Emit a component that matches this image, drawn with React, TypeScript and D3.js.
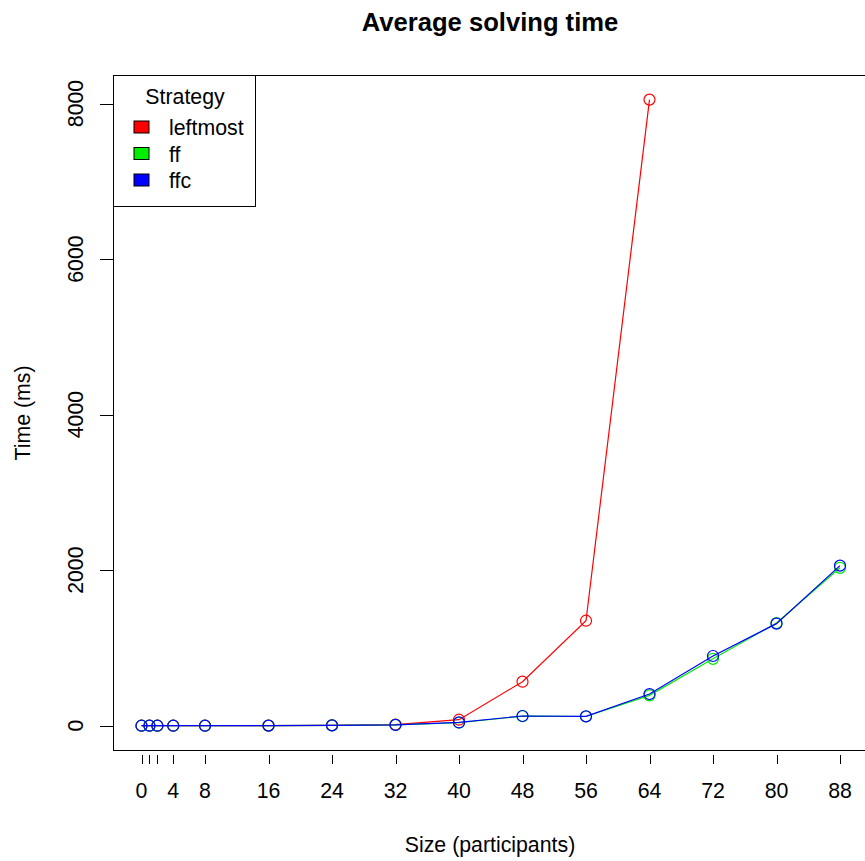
import * as d3 from "d3";
import { useEffect, useRef } from "react";

const sizes = [0, 1, 2, 4, 8, 16, 24, 32, 40, 48, 56, 64, 72, 80, 88];
const leftmost = [0, 0, 0, 0, 0, 1, 5, 15, 77, 566, 1350, 8050];
const ff = [0, 0, 0, 0, 0, 1, 4, 10, 38, 122, 118, 390, 860, 1320, 2030];
const ffc = [0, 0, 0, 0, 0, 1, 4, 10, 42, 125, 120, 407, 896, 1312, 2058];
const xTicks = [0, 1, 2, 4, 8, 16, 24, 32, 40, 48, 56, 64, 72, 80, 88];
const xLabels = [0, 4, 8, 16, 24, 32, 40, 48, 56, 64, 72, 80, 88];
const yTicks = [0, 2000, 4000, 6000, 8000];

const series = [
  { name: "leftmost", values: leftmost, color: "#ff0000" },
  { name: "ff", values: ff, color: "#00ee00" },
  { name: "ffc", values: ffc, color: "#0000ff" },
];

const App = () => {
  const ref = useRef<SVGSVGElement>(null);

  useEffect(() => {
    const width = 865;
    const height = 861;
    const font = "Liberation Sans, Arial, sans-serif";
    const fs = "21.3px";

    const svg = d3
      .select(ref.current)
      .attr("width", width)
      .attr("height", height)
      .html("");

    svg.append("rect").attr("width", width).attr("height", height).attr("fill", "#fff");

    const x = d3.scaleLinear().domain([0, 88]).range([141.5, 840]);
    const y = d3.scaleLinear().domain([0, 8000]).range([725.7, 103.5]);

    // plot box
    svg
      .append("rect")
      .attr("x", 113.5)
      .attr("y", 75.5)
      .attr("width", 760)
      .attr("height", 675)
      .attr("fill", "none")
      .attr("stroke", "#000")
      .attr("stroke-width", 1);

    // x ticks (offset below the box, no axis line)
    svg
      .selectAll(".xt")
      .data(xTicks)
      .enter()
      .append("line")
      .attr("x1", (d) => Math.round(x(d)) + 0.5)
      .attr("x2", (d) => Math.round(x(d)) + 0.5)
      .attr("y1", 755)
      .attr("y2", 764)
      .attr("stroke", "#000");

    svg
      .selectAll(".xl")
      .data(xLabels)
      .enter()
      .append("text")
      .attr("x", (d) => x(d))
      .attr("y", 798)
      .attr("text-anchor", "middle")
      .style("font-family", font)
      .style("font-size", fs)
      .text((d) => d);

    // y axis
    svg
      .selectAll(".yt")
      .data(yTicks)
      .enter()
      .append("line")
      .attr("x1", 100)
      .attr("x2", 113.5)
      .attr("y1", (d) => Math.round(y(d)) + 0.5)
      .attr("y2", (d) => Math.round(y(d)) + 0.5)
      .attr("stroke", "#000");

    svg
      .selectAll(".yl")
      .data(yTicks)
      .enter()
      .append("text")
      .attr("transform", (d) => `translate(82.5, ${y(d)}) rotate(-90)`)
      .attr("text-anchor", "middle")
      .style("font-family", font)
      .style("font-size", fs)
      .text((d) => d);

    // titles
    svg
      .append("text")
      .attr("x", 490)
      .attr("y", 31)
      .attr("text-anchor", "middle")
      .style("font-family", font)
      .style("font-size", "25.6px")
      .style("font-weight", "bold")
      .text("Average solving time");

    svg
      .append("text")
      .attr("x", 490)
      .attr("y", 852)
      .attr("text-anchor", "middle")
      .style("font-family", font)
      .style("font-size", fs)
      .text("Size (participants)");

    svg
      .append("text")
      .attr("transform", `translate(29.5, 413) rotate(-90)`)
      .attr("text-anchor", "middle")
      .style("font-family", font)
      .style("font-size", fs)
      .text("Time (ms)");

    // series
    const line = d3
      .line<number>()
      .x((_, i) => x(sizes[i]))
      .y((d) => y(d));

    series.forEach((s) => {
      const g = svg.append("g");
      g.append("path")
        .attr("d", line(s.values))
        .attr("fill", "none")
        .attr("stroke", s.color)
        .attr("stroke-width", 1.2);
      g.selectAll("circle")
        .data(s.values)
        .enter()
        .append("circle")
        .attr("cx", (_, i) => x(sizes[i]))
        .attr("cy", (d) => y(d))
        .attr("r", 5.5)
        .attr("fill", "none")
        .attr("stroke", s.color)
        .attr("stroke-width", 1.2);
    });

    // legend
    const lg = svg.append("g");
    lg.append("rect")
      .attr("x", 113.5)
      .attr("y", 75.5)
      .attr("width", 142)
      .attr("height", 131)
      .attr("fill", "#fff")
      .attr("stroke", "#000");
    lg.append("text")
      .attr("x", 185)
      .attr("y", 103.5)
      .attr("text-anchor", "middle")
      .style("font-family", font)
      .style("font-size", fs)
      .text("Strategy");
    series.forEach((s, i) => {
      lg.append("rect")
        .attr("x", 134)
        .attr("y", 121 + i * 26.5)
        .attr("width", 15)
        .attr("height", 12)
        .attr("fill", s.color)
        .attr("stroke", "#000");
      lg.append("text")
        .attr("x", 169)
        .attr("y", 135 + i * 26.5)
        .style("font-family", font)
        .style("font-size", fs)
        .text(s.name);
    });
  }, []);

  return (
    <div style={{ position: "fixed", left: 0, top: 0, width: 865, height: 861, overflow: "hidden" }}>
      <svg ref={ref} style={{ display: "block" }}></svg>
    </div>
  );
};

export default App;
